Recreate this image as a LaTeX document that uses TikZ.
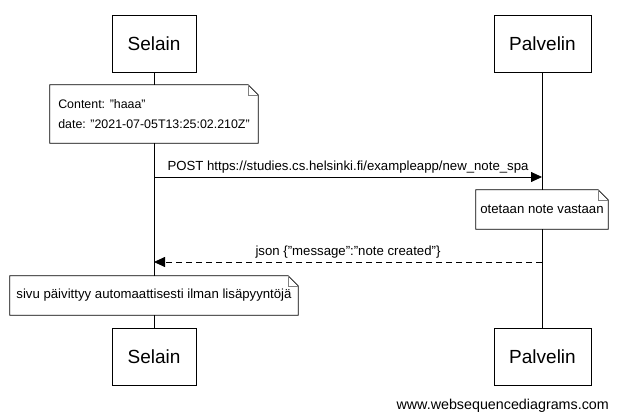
\documentclass[tikz,border=0pt]{standalone}
\usepackage{fontspec}
\setmainfont{Liberation Sans}
\usetikzlibrary{arrows.meta,positioning}
\tikzset{>={Triangle[length=11pt,width=10pt]}}

\begin{document}
\begin{tikzpicture}[x=1pt,y=-1pt,
  actor/.style={draw,line width=0.8pt,minimum height=57pt,inner sep=0pt,font=\fontsize{19}{22}\selectfont},
  note/.style={fill=white,inner sep=0pt,font=\fontsize{13.2}{20}\selectfont},
  msg/.style={font=\fontsize{13.2}{15}\selectfont,above=0pt}]
\useasboundingbox (0,0) rectangle (618,419);
% participants, top and bottom
\node[actor,minimum width=84pt] (selTop) at (154,43.5) {Selain};
\node[actor,minimum width=97pt] (palTop) at (542.5,43.5) {Palvelin};
\node[actor,minimum width=84pt] (selBot) at (154,357) {Selain};
\node[actor,minimum width=97pt] (palBot) at (542.5,357) {Palvelin};
% lifelines
\draw[line width=0.8pt] (selTop) -- (selBot);
\draw[line width=0.8pt] (palTop) -- (palBot);
% notes
\node[note,minimum width=208pt,minimum height=58pt,align=left,font=\fontsize{12.4}{20}\selectfont] (noteA) at (154,114)
  {Content: "haaa"\\date: "2021-07-05T13:25:02.210Z"};
\node[note,minimum width=132pt,minimum height=39pt] (noteB) at (542,209.5) {otetaan note vastaan};
\node[note,minimum width=288pt,minimum height=39pt] (noteC) at (154,295.5) {sivu päivittyy automaattisesti ilman lisäpyyntöjä};
\foreach \n in {noteA,noteB,noteC}{
  \draw[line width=0.8pt] (\n.south west) -- (\n.north west) -- ([xshift=-10pt]\n.north east)
    -- ([yshift=-10pt]\n.north east) -- (\n.south east) -- cycle;
  \draw[gray] ([xshift=-10pt]\n.north east) |- ([yshift=-10pt]\n.north east);% fold
}
% messages
\coordinate (postA) at (154,177);
\coordinate (postB) at (542,177);
\coordinate (jsonA) at (542,262);
\coordinate (jsonB) at (154,262);
\draw[->,line width=0.8pt] (postA) -- node[msg] {POST https://studies.cs.helsinki.fi/exampleapp/new\_note\_spa} (postB);
\draw[->,line width=0.8pt,dash pattern=on 6pt off 4pt] (jsonA) -- node[msg] {json \{"message":"note created"\}} (jsonB);
\node[anchor=east,inner sep=0pt,font=\fontsize{14.3}{16}\selectfont] (brand) at (609,406) {www.websequencediagrams.com};
\end{tikzpicture}
\end{document}
